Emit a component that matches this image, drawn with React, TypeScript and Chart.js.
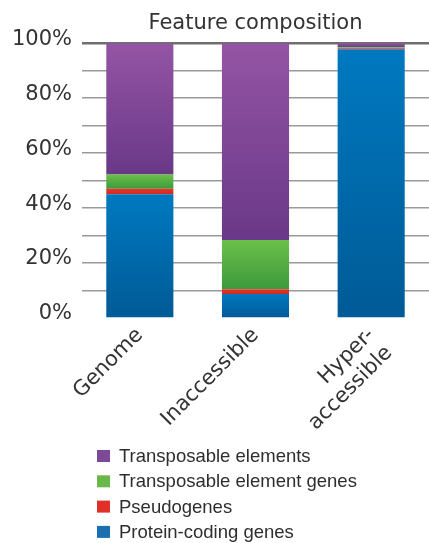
import React, { useEffect, useRef } from "react";
import { Chart, registerables } from "chart.js";

Chart.register(...registerables);

const categories: (string | string[])[] = ["Genome", "Inaccessible", ["Hyper-", "accessible"]];
const proteinCoding = [45, 8.7, 97.8];
const pseudogenes = [2, 1.8, 0.4];
const teGenes = [5.2, 17.9, 0.3];
const transposable = [47.8, 71.6, 1.5];
const yTicks = [0, 20, 40, 60, 80, 100];

const seriesNames = [
  "Protein-coding genes",
  "Pseudogenes",
  "Transposable element genes",
  "Transposable elements",
];
const seriesData = [proteinCoding, pseudogenes, teGenes, transposable];
const gradColors: [string, string][] = [
  ["#0079c0", "#005a96"],
  ["#e4352b", "#d02a24"],
  ["#6cc04a", "#3c9a3c"],
  ["#9454a4", "#6a3888"],
];
const legendColors = ["#1a6fb0", "#e0302a", "#6ab84a", "#7c4a98"];
const FONT = "'DejaVu Sans', sans-serif";

function makeBg(di: number) {
  return (ctx: any) => {
    const chart = ctx.chart;
    const y = chart.scales?.y;
    const idx = ctx.dataIndex;
    if (!y || idx === undefined || !chart.chartArea) return gradColors[di][0];
    let base = 0;
    for (let k = 0; k < di; k++) base += seriesData[k][idx];
    const top = base + seriesData[di][idx];
    const yTop = y.getPixelForValue(top);
    const yBot = y.getPixelForValue(base);
    if (!isFinite(yTop) || !isFinite(yBot) || yTop === yBot) return gradColors[di][0];
    const g = chart.ctx.createLinearGradient(0, yTop, 0, yBot);
    g.addColorStop(0, gradColors[di][0]);
    g.addColorStop(1, gradColors[di][1]);
    return g;
  };
}

const legendPlugin = {
  id: "stackLegend",
  afterDraw(chart: any) {
    const ctx = chart.ctx;
    ctx.save();
    ctx.font = "18.5px 'Liberation Sans', Arial, sans-serif";
    ctx.textBaseline = "middle";
    ctx.textAlign = "left";
    const order = [3, 2, 1, 0];
    const startY = chart.height - 87;
    order.forEach((si, row) => {
      const cy = startY + row * 25.3;
      ctx.fillStyle = legendColors[si];
      ctx.fillRect(97, cy - 6, 13, 12);
      ctx.fillStyle = "#2e2e2e";
      ctx.fillText(seriesNames[si], 119, cy + 1);
    });
    ctx.restore();
  },
};

export default function App() {
  const ref = useRef<HTMLCanvasElement>(null);
  useEffect(() => {
    if (!ref.current) return;
    const chart = new Chart(ref.current, {
      type: "bar",
      data: {
        labels: categories as any,
        datasets: seriesData.map((d, i) => ({
          label: seriesNames[i],
          data: d,
          backgroundColor: makeBg(i),
          borderWidth: 0,
          barPercentage: 0.58,
          categoryPercentage: 1,
        })),
      },
      options: {
        animation: false,
        responsive: true,
        maintainAspectRatio: false,
        layout: { padding: { left: 0, right: 0, top: 0, bottom: 95 } },
        plugins: {
          legend: { display: false },
          tooltip: { enabled: false },
          title: {
            display: true,
            text: "Feature composition",
            fullSize: false,
            color: "#333333",
            font: { family: FONT, size: 21, weight: "normal" },
            padding: { top: 11, bottom: 7 },
          },
        },
        scales: {
          x: {
            stacked: true,
            grid: { display: false },
            border: { display: false },
            ticks: {
              color: "#333333",
              font: { family: FONT, size: 21 },
              minRotation: 45,
              maxRotation: 45,
              padding: -3,
            },
            afterFit: (s: any) => {
              s.height = 130;
            },
          },
          y: {
            stacked: true,
            min: 0,
            max: 100,
            border: { display: false },
            grid: {
              drawTicks: false,
              color: (c: any) => (c.tick.value === 100 ? "#6e6e6e" : c.tick.value === 0 ? "rgba(0,0,0,0)" : "#9a9a9a"),
              lineWidth: (c: any) => (c.tick.value === 100 ? 2.5 : 1.5),
            },
            ticks: {
              stepSize: 10,
              autoSkip: false,
              color: "#333333",
              padding: 10,
              labelOffset: -4,
              font: { family: FONT, size: 21 },
              callback: (v: any) => (yTicks.includes(Number(v)) ? v + "%" : ""),
            },
            afterFit: (s: any) => {
              s.width = 82;
            },
          },
        },
      },
      plugins: [legendPlugin],
    });
    return () => chart.destroy();
  }, []);
  return (
    <div style={{ position: "fixed", left: 0, top: 0, width: 429, height: 543, background: "#fff" }}>
      <canvas ref={ref} />
    </div>
  );
}
